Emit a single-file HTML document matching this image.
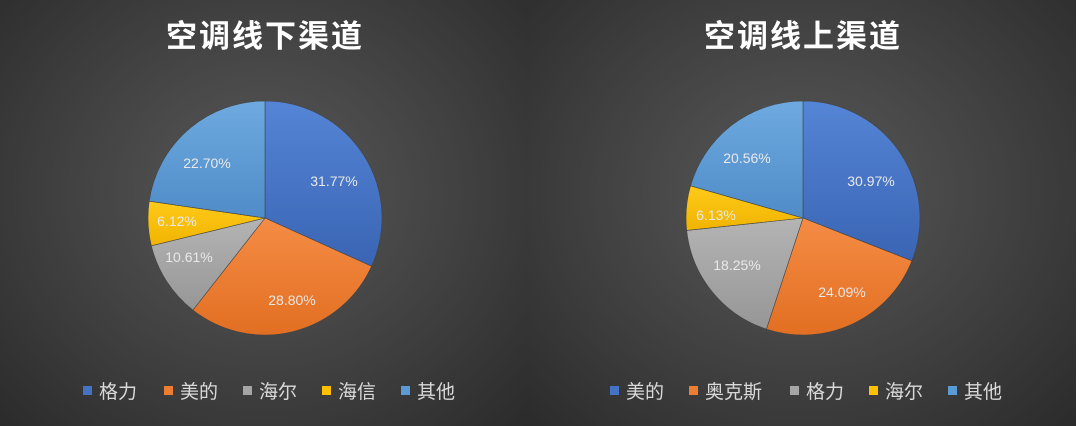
<!DOCTYPE html>
<html><head><meta charset="utf-8"><style>
body{margin:0;width:1080px;height:426px;background:#fff;overflow:hidden;font-family:"Liberation Sans","Noto Sans CJK SC",sans-serif}
.p{position:absolute;top:0;height:426px;background:radial-gradient(ellipse at 50% 45%,#595959 0%,#3e3e3e 60%,#2b2b2b 100%)}
</style></head><body>
<div class="p" style="left:0;width:526px"></div>
<div class="p" style="left:526px;width:550px"></div>
<svg id="s" width="1080" height="426" style="position:absolute;left:0;top:0" font-family="Liberation Sans, Noto Sans CJK SC, sans-serif">
<defs>
<linearGradient id="g0" x1="0" y1="0" x2="0" y2="1"><stop offset="0" stop-color="#5585d6"/><stop offset="1" stop-color="#3a64b4"/></linearGradient>
<linearGradient id="g1" x1="0" y1="0" x2="0" y2="1"><stop offset="0" stop-color="#f58c45"/><stop offset="1" stop-color="#e26f22"/></linearGradient>
<linearGradient id="g2" x1="0" y1="0" x2="0" y2="1"><stop offset="0" stop-color="#b4b4b4"/><stop offset="1" stop-color="#969696"/></linearGradient>
<linearGradient id="g3" x1="0" y1="0" x2="0" y2="1"><stop offset="0" stop-color="#ffca1a"/><stop offset="1" stop-color="#f0b400"/></linearGradient>
<linearGradient id="g4" x1="0" y1="0" x2="0" y2="1"><stop offset="0" stop-color="#6eaae0"/><stop offset="1" stop-color="#4f8cc8"/></linearGradient>
</defs>
<text x="265" y="47" fill="#fff" font-size="31" font-weight="bold" text-anchor="middle" letter-spacing="2">空调线下渠道</text>
<text x="803" y="47" fill="#fff" font-size="31" font-weight="bold" text-anchor="middle" letter-spacing="2">空调线上渠道</text>
<g id="pies"></g>
<g fill="#e8e8e8" font-size="14">
<text x="334" y="186" text-anchor="middle">31.77%</text>
<text x="292" y="305" text-anchor="middle">28.80%</text>
<text x="189" y="262" text-anchor="middle">10.61%</text>
<text x="177" y="226" text-anchor="middle">6.12%</text>
<text x="207" y="168" text-anchor="middle">22.70%</text>
<text x="871" y="186" text-anchor="middle">30.97%</text>
<text x="842" y="297" text-anchor="middle">24.09%</text>
<text x="737" y="270" text-anchor="middle">18.25%</text>
<text x="716" y="220" text-anchor="middle">6.13%</text>
<text x="747" y="163" text-anchor="middle">20.56%</text>
</g>
<g font-size="19" fill="#d9d9d9">
<rect x="83" y="386" width="9" height="9" fill="#4472c4"/><text x="99" y="398">格力</text>
<rect x="164" y="386" width="9" height="9" fill="#ed7d31"/><text x="180" y="398">美的</text>
<rect x="243" y="386" width="9" height="9" fill="#a5a5a5"/><text x="259" y="398">海尔</text>
<rect x="322" y="386" width="9" height="9" fill="#ffc000"/><text x="338" y="398">海信</text>
<rect x="401" y="386" width="9" height="9" fill="#5b9bd5"/><text x="417" y="398">其他</text>
<rect x="610" y="386" width="9" height="9" fill="#4472c4"/><text x="626" y="398">美的</text>
<rect x="689" y="386" width="9" height="9" fill="#ed7d31"/><text x="705" y="398">奥克斯</text>
<rect x="790" y="386" width="9" height="9" fill="#a5a5a5"/><text x="806" y="398">格力</text>
<rect x="869" y="386" width="9" height="9" fill="#ffc000"/><text x="885" y="398">海尔</text>
<rect x="948" y="386" width="9" height="9" fill="#5b9bd5"/><text x="964" y="398">其他</text>
</g>
</svg>
<script>
function pie(cx,cy,r,vals){var g=document.getElementById('pies'),a=0,s='';
vals.forEach(function(v,i){var a1=a+v/100*2*Math.PI;
var x0=cx+r*Math.sin(a),y0=cy-r*Math.cos(a),x1=cx+r*Math.sin(a1),y1=cy-r*Math.cos(a1);
s+='<path d="M'+cx+' '+cy+'L'+x0+' '+y0+'A'+r+' '+r+' 0 '+(a1-a>Math.PI?1:0)+' 1 '+x1+' '+y1+'Z" fill="url(#g'+i+')" stroke="#444" stroke-width="0.6"/>';a=a1;});
g.innerHTML+=s;}
pie(265,218,117,[31.77,28.80,10.61,6.12,22.70]);
pie(803,218,117,[30.97,24.09,18.25,6.13,20.56]);
</script>
</body></html>
